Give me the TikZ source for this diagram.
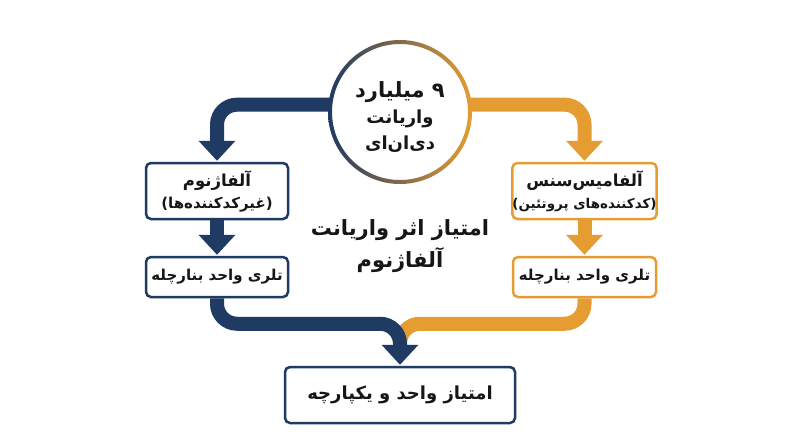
\documentclass[tikz,border=0pt]{standalone}
\usepackage{fontspec}
\usetikzlibrary{calc,backgrounds}
\TeXXeTstate=1
\newfontfamily\fa[Script=Arabic]{DejaVu Sans}
\definecolor{navy}{RGB}{31,58,99}
\definecolor{gold}{RGB}{229,157,50}
\definecolor{ink}{RGB}{22,22,22}
\newcommand\RL[1]{\beginR #1\endR}
\newcommand\ahead[2]{\fill[#1] ($(#2)+(-18.5,-21)$) -- ($(#2)+(18.5,-21)$) -- ($(#2)+(0,-1)$) -- cycle;}
\begin{document}
\begin{tikzpicture}[x=1pt,y=-1pt,
  box/.style={draw, line width=2.5pt, rounded corners=5pt, fill=white, text=ink,
    font=\fa\bfseries\fontsize{15}{22}\selectfont, align=center, inner sep=0pt},
  band/.style={line width=14pt, rounded corners=20pt},
  label/.style={text=ink, align=center, inner sep=0pt}]
\useasboundingbox (0,0) rectangle (800,447);

\node[box, draw=navy, minimum width=142pt, minimum height=56pt] (l1) at (217,191)
  {{\fontsize{16.5}{22}\selectfont\RL{آلفاژنوم}}\\\RL{(غیرکدکننده^^^^200cها)}};
\node[box, draw=navy, minimum width=142pt, minimum height=40pt] (l2) at (217,277)
  {\RL{تلری واحد بنارچله}};
\node[box, draw=gold, minimum width=143pt, minimum height=56pt] (r1) at (584.5,191)
  {{\fontsize{16.5}{22}\selectfont\RL{آلفامیس^^^^200cسنس}}\\{\fontsize{13.5}{22}\selectfont\RL{(کدکننده^^^^200cهای پروتئین)}}};
\node[box, draw=gold, minimum width=143pt, minimum height=40pt] (r2) at (584.5,277)
  {\RL{تلری واحد بنارچله}};
\node[box, draw=navy, minimum width=230pt, minimum height=56pt,
  font=\fa\bfseries\fontsize{18}{24}\selectfont] (b) at (400,395)
  {\RL{امتیاز واحد و یکپارچه}};

\node[circle, fill=white, minimum size=140pt, inner sep=0pt] (c) at (400,112) {};
\node[label, font=\fa\bfseries\fontsize{18}{26}\selectfont] (ct) at (400,117)
  {{\fontsize{21}{26}\selectfont\RL{۹ میلیارد}}\\\RL{واریانت}\\\RL{دی^^^^200cان^^^^200cای}};
\node[label, font=\fa\bfseries\fontsize{21}{32}\selectfont] (t) at (400,246)
  {\RL{امتیاز اثر واریانت}\\\RL{آلفاژنوم}};

\begin{pgfonlayer}{background}
\fill[white] (0,0) rectangle (800,447);
\draw[band, navy] (c.174) -| ($(l1.north)+(0,-20)$);
\draw[band, gold] (c.6) -| ($(r1.north)+(0,-20)$);
\draw[band, navy] (l1.south) -- ($(l2.north)+(0,-20)$);
\draw[band, gold] (r1.south) -- ($(r2.north)+(0,-20)$);
\draw[band, gold] (r2.south) |- ($(b.north)+(0,-42)$) -- ($(b.north)+(0,-20)$);
\draw[band, navy] (l2.south) |- ($(b.north)+(0,-42)$) -- ($(b.north)+(0,-20)$);
\end{pgfonlayer}
\ahead{navy}{l1.north}
\ahead{gold}{r1.north}
\ahead{navy}{l2.north}
\ahead{gold}{r2.north}
\ahead{navy}{b.north}

\shade[even odd rule, left color=navy, right color=gold]
  (c.center) circle (72pt) (c.center) circle (68pt);
\end{tikzpicture}
\end{document}
